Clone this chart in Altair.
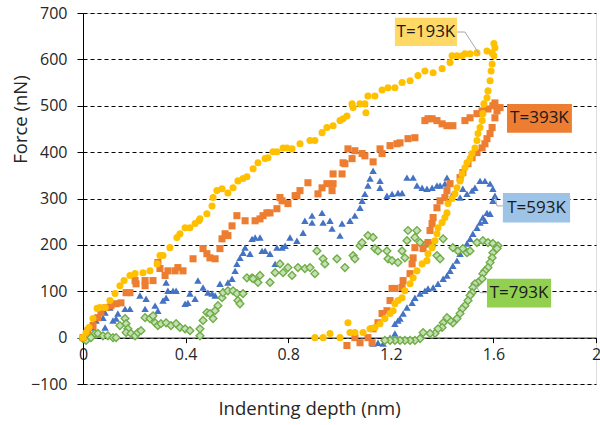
import altair as alt
import pandas as pd

# ---- data (indenting depth nm, force nN) ----
x193 = [0, 0.012, 0.023, 0.039, 0.055, 0.066, 0.086, 0.105, 0.125, 0.144, 0.16, 0.183, 0.203, 0.234, 0.261,
        0.289, 0.3, 0.312, 0.339, 0.366, 0.378, 0.398, 0.417, 0.437, 0.452, 0.456, 0.483, 0.503, 0.507, 0.522,
        0.542, 0.565, 0.585, 0.604, 0.624, 0.639, 0.663, 0.682, 0.71, 0.721, 0.741, 0.756, 0.78, 0.795, 0.815,
        0.846, 0.885, 0.904, 0.932, 0.951, 0.975, 1.002, 1.014, 1.029, 1.049, 1.053, 1.08, 1.099, 1.103, 1.111,
        1.138, 1.166, 1.189, 1.216, 1.244, 1.275, 1.306, 1.333, 1.365, 1.4, 1.431, 1.439, 1.458, 1.478, 1.489,
        1.509, 1.536, 1.575, 1.595, 1.602, 1.606,
        1.602, 1.595, 1.591, 1.587, 1.579, 1.575, 1.563, 1.559, 1.556, 1.548, 1.54, 1.536, 1.528, 1.517, 1.509,
        1.497, 1.489, 1.478, 1.47, 1.458, 1.45, 1.439, 1.423, 1.419, 1.411, 1.4, 1.384, 1.38, 1.372, 1.361,
        1.345, 1.341, 1.322, 1.302, 1.287, 1.275, 1.255, 1.244, 1.228, 1.216, 1.209, 1.197, 1.177, 1.158, 1.138,
        1.119, 1.092, 1.06, 1.041, 1.033, 1.002, 0.963, 0.936, 0.904]
y193 = [0, 11, 22, 41, 63, 65, 65, 80, 95, 112, 123, 134, 138, 140, 144,
        159, 177, 177, 194, 216, 224, 237, 237, 246, 252, 256, 267, 284, 302, 317,
        321, 312, 323, 338, 343, 347, 364, 377, 386, 388, 401, 401, 409, 409, 407,
        418, 425, 425, 442, 453, 457, 468, 472, 478, 504, 496, 504, 504, 485, 521,
        521, 534, 539, 539, 550, 554, 565, 575, 571, 580, 593, 608, 608, 608, 612,
        612, 614, 618, 614, 634, 625,
        608, 590, 575, 554, 532, 517, 504, 483, 468, 453, 440, 425, 409, 397, 386,
        377, 366, 353, 338, 323, 310, 300, 289, 269, 259, 248, 237, 224, 209, 194,
        181, 166, 159, 144, 129, 116, 101, 86, 80, 73, 58, 52, 41, 30, 22,
        19, 11, 11, 11, 32, 0, 9, 0, 0]

x393 = [0, 0.019, 0.039, 0.058, 0.07, 0.09, 0.109, 0.129, 0.148, 0.168, 0.183, 0.203, 0.207, 0.242, 0.242,
        0.273, 0.292, 0.3, 0.32, 0.331, 0.359, 0.37, 0.39, 0.429, 0.468, 0.483, 0.495, 0.515, 0.534, 0.542,
        0.554, 0.565, 0.581, 0.6, 0.632, 0.671, 0.69, 0.702, 0.717, 0.729, 0.756, 0.768, 0.776, 0.799, 0.827,
        0.834, 0.846, 0.877, 0.916, 0.932, 0.951, 0.971, 0.975, 0.975, 1.01, 1.014, 1.021, 1.033, 1.049, 1.06,
        1.088, 1.099, 1.131, 1.158, 1.166, 1.197, 1.224, 1.236, 1.267, 1.294, 1.333, 1.345, 1.361, 1.38, 1.4,
        1.419, 1.442, 1.489, 1.509, 1.536, 1.556, 1.579, 1.598, 1.606, 1.614, 1.626,
        1.606, 1.595, 1.587, 1.575, 1.567, 1.556, 1.536, 1.517, 1.501, 1.481, 1.47, 1.431, 1.419, 1.411, 1.392,
        1.38, 1.365, 1.361, 1.353, 1.345, 1.326, 1.294, 1.287, 1.283, 1.275, 1.248, 1.244, 1.216, 1.205, 1.197,
        1.185, 1.166, 1.15, 1.131, 1.111, 1.08, 1.06, 1.029, 1.127]
y393 = [0, 15, 26, 43, 54, 65, 69, 73, 75, 97, 97, 123, 116, 123, 112,
        123, 162, 149, 134, 144, 144, 151, 144, 170, 192, 181, 172, 170, 192, 213,
        224, 220, 241, 263, 252, 252, 256, 263, 269, 269, 278, 302, 295, 289, 306,
        306, 317, 334, 310, 323, 332, 317, 332, 353, 353, 377, 375, 407, 386, 403,
        397, 392, 379, 407, 397, 414, 418, 420, 429, 431, 468, 472, 472, 468, 461,
        457, 457, 468, 474, 483, 489, 493, 500, 506, 489, 496,
        474, 453, 440, 429, 418, 409, 399, 388, 375, 356, 345, 332, 317, 302, 295,
        280, 259, 246, 231, 205, 192, 194, 172, 159, 138, 123, 108, 106, 106, 80,
        58, 52, 32, 19, 0, -11, 0, -17, -11]

x593 = [0.008, 0.019, 0.039, 0.051, 0.078, 0.086, 0.086, 0.105, 0.117, 0.129, 0.136, 0.164, 0.183, 0.222, 0.242,
        0.246, 0.281, 0.292, 0.312, 0.324, 0.324, 0.331, 0.351, 0.363, 0.398, 0.409, 0.417, 0.437, 0.448, 0.468,
        0.487, 0.503, 0.515, 0.534, 0.546, 0.565, 0.581, 0.593, 0.6, 0.612, 0.624, 0.632, 0.651, 0.659, 0.671,
        0.69, 0.698, 0.71, 0.729, 0.749, 0.756, 0.776, 0.788, 0.807, 0.834, 0.858, 0.865, 0.893, 0.893, 0.932,
        0.936, 0.963, 0.971, 1.01, 1.002, 1.041, 1.06, 1.08, 1.088, 1.099, 1.111, 1.119, 1.131, 1.158, 1.158,
        1.185, 1.205, 1.228, 1.244, 1.263, 1.287, 1.302, 1.322, 1.341, 1.361, 1.38, 1.392, 1.411, 1.419, 1.442,
        1.47, 1.481, 1.497, 1.517, 1.528, 1.548, 1.567, 1.587, 1.598, 1.606,
        1.598, 1.587, 1.575, 1.567, 1.559, 1.548, 1.536, 1.52, 1.509, 1.497, 1.481, 1.47, 1.458, 1.442, 1.431,
        1.419, 1.404, 1.384, 1.365, 1.345, 1.333, 1.314, 1.294, 1.283, 1.263, 1.248, 1.236, 1.216, 1.228, 1.216,
        1.197, 1.17, 1.15, 1.131]
y593 = [4, 11, 22, 37, 43, 54, 22, 65, 37, 41, 52, 62, 62, 91, 62,
        84, 69, 58, 80, 86, 119, 101, 101, 101, 73, 75, 95, 84, 123, 108,
        97, 95, 91, 116, 101, 119, 127, 144, 159, 172, 183, 194, 181, 213, 216,
        216, 187, 187, 181, 159, 194, 194, 198, 216, 209, 226, 252, 263, 248, 269,
        248, 252, 235, 246, 220, 252, 263, 280, 295, 310, 328, 343, 360, 338, 323,
        306, 310, 312, 312, 345, 345, 328, 323, 321, 323, 328, 328, 332, 345, 310,
        302, 321, 310, 317, 323, 338, 338, 332, 321, 306,
        295, 267, 269, 252, 259, 248, 237, 224, 213, 203, 194, 181, 166, 155, 144,
        134, 127, 116, 108, 106, 101, 95, 86, 75, 65, 52, 41, 30, 37, 9,
        0, -13, -11, -13]

x793 = [0, 0.012, 0.031, 0.047, 0.058, 0.078, 0.097, 0.117, 0.129, 0.144, 0.164, 0.168, 0.175, 0.168, 0.187,
        0.203, 0.214, 0.226, 0.242, 0.261, 0.273, 0.281, 0.292, 0.304, 0.324, 0.343, 0.363, 0.378, 0.398, 0.417,
        0.456, 0.456, 0.468, 0.483, 0.495, 0.507, 0.515, 0.526, 0.542, 0.546, 0.565, 0.585, 0.6, 0.604, 0.612,
        0.624, 0.639, 0.659, 0.663, 0.682, 0.69, 0.729, 0.749, 0.768, 0.78, 0.799, 0.815, 0.838, 0.865, 0.885,
        0.904, 0.912, 0.936, 0.943, 0.99, 1.021, 1.053, 1.06, 1.08, 1.088, 1.111, 1.131, 1.138, 1.15, 1.185,
        1.189, 1.205, 1.228, 1.244, 1.255, 1.263, 1.267, 1.302, 1.294, 1.314, 1.341, 1.361, 1.38, 1.392, 1.404,
        1.442, 1.462, 1.481, 1.497, 1.509, 1.536, 1.559, 1.579, 1.598, 1.618,
        1.614, 1.598, 1.595, 1.587, 1.579, 1.567, 1.559, 1.556, 1.54, 1.528, 1.52, 1.517, 1.509, 1.501, 1.489,
        1.478, 1.47, 1.458, 1.442, 1.431, 1.419, 1.404, 1.4, 1.384, 1.372, 1.353, 1.326, 1.314, 1.294, 1.275,
        1.255, 1.236, 1.216, 1.197, 1.177]
y793 = [-2, -6, 0, 9, 9, 4, 4, 0, 0, 26, 41, 30, 19, 11, 9,
        4, 11, 15, 43, 41, 47, 32, 26, 30, 32, 26, 30, 22, 19, 15,
        4, 19, 37, 54, 52, 41, 58, 69, 86, 97, 101, 101, 95, 80, 73,
        95, 129, 129, 127, 119, 134, 119, 140, 159, 140, 151, 134, 151, 149, 151,
        138, 187, 170, 159, 170, 151, 177, 170, 198, 205, 220, 216, 192, 187, 187,
        170, 166, 162, 187, 172, 209, 231, 231, 216, 205, 203, 198, 177, 170, 213,
        194, 187, 192, 183, 187, 205, 209, 205, 203, 198,
        192, 183, 172, 162, 151, 144, 138, 127, 119, 116, 108, 97, 91, 80, 69,
        62, 52, 41, 32, 37, 43, 32, 22, 19, 9, 9, 11, -2, -6, -6,
        -6, -6, -6, -6, -6]

# annotation boxes (data units)
lab_text = ["T=193K", "T=393K", "T=593K", "T=793K"]
lab_fill = ["#FFD966", "#ED7D31", "#9DC3E6", "#92D050"]
lab_x1 = [1.216, 1.653, 1.637, 1.575]
lab_x2 = [1.458, 1.906, 1.899, 1.825]
lab_y1 = [629, 442, 248, 65]
lab_y2 = [690, 504, 312, 127]

# leader lines
lead_id = ["a", "a", "a", "c", "c", "c", "d", "d", "d"]
lead_ord = [0, 1, 2, 0, 1, 2, 0, 1, 2]
lead_x = [1.458, 1.489, 1.544, 1.637, 1.614, 1.606, 1.575, 1.548, 1.528]
lead_y = [659, 659, 612, 284, 284, 304, 97, 97, 116]

FONT = "Open Sans"

xs = alt.Scale(domain=[0, 2], nice=False, zero=False)
ys = alt.Scale(domain=[-100, 700], nice=False, zero=False)

xax = alt.Axis(values=[0, 0.4, 0.8, 1.2, 1.6, 2], format="~g", grid=False, offset=-46.375,
               domainColor="black", tickColor="black", tickSize=5, labelPadding=4,
               labelFontSize=16, labelFont=FONT, labelColor="#262626", labelFlush=False,
               title="Indenting depth (nm)", titleFont=FONT, titleFontSize=18.5, titleFontWeight="normal",
               titleColor="#262626", titleX=226, titleY=71, titleBaseline="middle", titleAlign="center")
yax = alt.Axis(values=list(range(-100, 701, 100)), grid=True, gridColor="black", gridDash=[4, 3],
               gridWidth=1, domainColor="black", tickColor="black", tickSize=6, labelPadding=10,
               labelFontSize=16, labelFont=FONT, labelColor="#262626",
               title="Force (nN)", titleFont=FONT, titleFontSize=18.5, titleFontWeight="normal",
               titleColor="#262626", titleX=-63, titleY=106, titleAngle=-90, titleBaseline="middle",
               titleAlign="center")


def series(xv, yv):
    return pd.DataFrame({"x": xv, "y": yv})


base_blue = alt.Chart(series(x593, y593)).mark_point(
    shape="triangle-up", filled=True, color="#4472C4", opacity=1, size=55
).encode(x=alt.X("x:Q", scale=xs, axis=xax), y=alt.Y("y:Q", scale=ys, axis=yax))

green = alt.Chart(series(x793, y793)).mark_point(
    shape="diamond", filled=True, fill="#C5E0B4", stroke="#70AD47", strokeWidth=1.4, opacity=1, size=60
).encode(x="x:Q", y="y:Q")

orange = alt.Chart(series(x393, y393)).mark_point(
    shape="square", filled=True, color="#ED7D31", opacity=1, size=50
).encode(x="x:Q", y="y:Q")

yellow = alt.Chart(series(x193, y193)).mark_point(
    shape="circle", filled=True, color="#FFC000", opacity=1, size=50
).encode(x="x:Q", y="y:Q")

labdf = pd.DataFrame({"t": lab_text, "f": lab_fill, "x1": lab_x1, "x2": lab_x2, "y1": lab_y1, "y2": lab_y2})
labdf["xm"] = (labdf["x1"] + labdf["x2"]) / 2
labdf["ym"] = (labdf["y1"] + labdf["y2"]) / 2

leaders = alt.Chart(pd.DataFrame({"id": lead_id, "o": lead_ord, "x": lead_x, "y": lead_y})).mark_line(
    color="#A6A6A6", strokeWidth=1
).encode(x="x:Q", y="y:Q", detail="id:N", order="o:Q")

boxes = alt.Chart(labdf).mark_rect().encode(
    x="x1:Q", x2="x2", y="y1:Q", y2="y2", color=alt.Color("f:N", scale=None)
)
texts = alt.Chart(labdf).mark_text(font=FONT, fontSize=17, color="#1a1a1a", baseline="middle", align="center").encode(
    x="xm:Q", y="ym:Q", text="t:N"
)

chart = alt.layer(base_blue, green, orange, yellow, leaders, boxes, texts).properties(
    width=513, height=371,
    autosize=alt.AutoSizeParams(type="none"),
    padding={"left": 83, "top": 13, "right": 4, "bottom": 41},
).configure_view(stroke=None).configure(background="white")

chart.save("out.html", embed_options={"renderer": "svg", "actions": False})
